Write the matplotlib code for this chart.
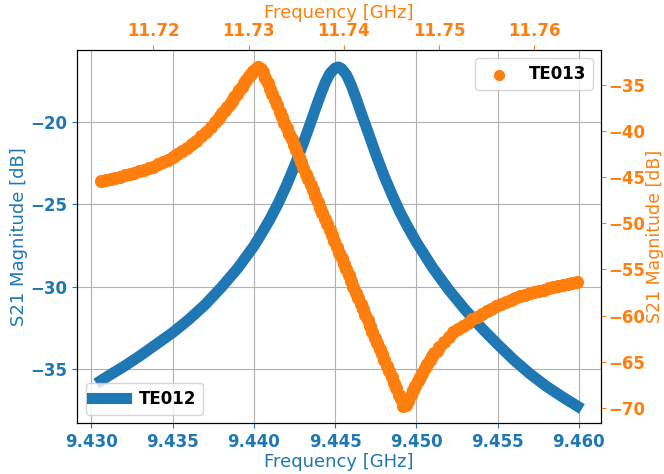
import matplotlib
matplotlib.use("Agg")
import matplotlib.pyplot as plt
from matplotlib.ticker import MultipleLocator

# TE012 (bottom / left axes)
te012_freq = [9.4306, 9.4310, 9.4320, 9.4330, 9.4340, 9.4350, 9.4360, 9.4370,
              9.4380, 9.4390, 9.4400, 9.4405, 9.4410, 9.4415, 9.4420, 9.4425,
              9.4430, 9.4435, 9.4438, 9.4441, 9.4444, 9.4447, 9.4450, 9.4452,
              9.4454, 9.4457, 9.4460, 9.4463, 9.4466, 9.4470, 9.4475, 9.4480,
              9.4485, 9.4490, 9.4495, 9.4500, 9.4510, 9.4520, 9.4530, 9.4540,
              9.4550, 9.4560, 9.4570, 9.4580, 9.4590, 9.4599]
te012_mag = [-35.70, -35.45, -34.85, -34.20, -33.50, -32.80, -32.00, -31.10,
             -30.05, -28.90, -27.55, -26.75, -25.90, -24.95, -23.88, -22.70,
             -21.42, -20.05, -19.20, -18.38, -17.62, -17.05, -16.75, -16.68,
             -16.78, -17.15, -17.80, -18.60, -19.45, -20.55, -21.95, -23.25,
             -24.42, -25.50, -26.43, -27.30, -28.85, -30.20, -31.40, -32.50,
             -33.50, -34.45, -35.30, -36.05, -36.70, -37.25]

# TE013 (top / right axes)
te013_freq = [
    11.7145, 11.7150, 11.7155, 11.7160, 11.7165, 11.7170, 11.7175, 11.7180,
    11.7185, 11.7190, 11.7195, 11.7200, 11.7205, 11.7210, 11.7215, 11.7220,
    11.7225, 11.7230, 11.7235, 11.7240, 11.7245, 11.7250, 11.7255, 11.7260,
    11.7265,
    11.72675, 11.7270, 11.72725, 11.7275, 11.72775, 11.7280, 11.72825, 11.7285,
    11.72875, 11.7290, 11.72925, 11.7295, 11.72975, 11.7300, 11.73025, 11.7305,
    11.73075, 11.7310, 11.73125, 11.7315,
    11.73175, 11.7320, 11.73225, 11.7325, 11.73275, 11.7330, 11.73325, 11.7335,
    11.73375, 11.7340, 11.73425, 11.7345, 11.73475, 11.7350, 11.73525, 11.7355,
    11.73575, 11.7360, 11.73625, 11.7365, 11.73675, 11.7370, 11.73725, 11.7375,
    11.73775, 11.7380, 11.73825, 11.7385, 11.73875, 11.7390, 11.73925, 11.7395,
    11.73975, 11.7400, 11.74025, 11.7405, 11.74075, 11.7410, 11.74125, 11.7415,
    11.74175, 11.7420, 11.74225, 11.7425, 11.74275, 11.7430, 11.74325, 11.7435,
    11.74375, 11.7440, 11.74425, 11.7445, 11.74475, 11.7450, 11.74525, 11.7455,
    11.74575, 11.7460,
    11.74625, 11.7465, 11.74675, 11.7470, 11.74725, 11.7475, 11.74775, 11.7480,
    11.74825, 11.7485, 11.74875, 11.7490, 11.74925, 11.7495, 11.74975, 11.7500,
    11.7505, 11.7510, 11.7515, 11.7520, 11.7525, 11.7530, 11.7535, 11.7540,
    11.7545, 11.7550, 11.7555, 11.7560, 11.7565, 11.7570, 11.7575, 11.7580,
    11.7585, 11.7590, 11.7595, 11.7600, 11.7605, 11.7610, 11.7615, 11.7620,
    11.7625, 11.7630, 11.7635, 11.7640, 11.7645]
te013_mag = [
    -45.40, -45.29, -45.18, -45.06, -44.94, -44.81, -44.67, -44.52,
    -44.36, -44.20, -44.03, -43.85, -43.62, -43.38, -43.12, -42.84,
    -42.52, -42.18, -41.82, -41.44, -41.03, -40.58, -40.10, -39.58,
    -39.02,
    -38.72, -38.41, -38.09, -37.76, -37.42, -37.07, -36.71, -36.34,
    -35.96, -35.57, -35.18, -34.80, -34.43, -34.08, -33.76, -33.48,
    -33.22, -33.05, -33.22, -33.62,
    -34.2, -34.8, -35.4, -36.0, -36.6, -37.2, -37.9, -38.5,
    -39.1, -39.7, -40.3, -40.9, -41.5, -42.1, -42.8, -43.4,
    -44.0, -44.6, -45.2, -45.8, -46.4, -47.0, -47.7, -48.3,
    -48.9, -49.5, -50.1, -50.7, -51.3, -51.9, -52.6, -53.2,
    -53.8, -54.4, -55.0, -55.6, -56.2, -56.9, -57.5, -58.1,
    -58.7, -59.3, -59.9, -60.5, -61.1, -61.8, -62.4, -63.0,
    -63.6, -64.2, -64.8, -65.5, -66.0, -66.7, -67.3, -67.8,
    -68.6, -69.0,
    -69.8, -69.7, -69.2, -68.6, -68.1, -67.6, -67.1, -66.7,
    -66.2, -65.7, -65.2, -64.8, -64.4, -64.1, -63.8, -63.45,
    -62.9, -62.3, -61.8, -61.45, -61.1, -60.75, -60.4, -60.1,
    -59.8, -59.5, -59.25, -58.95, -58.7, -58.5, -58.3, -58.1,
    -57.9, -57.75, -57.6, -57.45, -57.3, -57.2, -57.05, -56.95,
    -56.8, -56.7, -56.6, -56.45, -56.35]

c1 = "tab:blue"
c2 = "tab:orange"

fig = plt.figure(figsize=(6.64, 4.74), dpi=100)
ax = fig.add_axes([0.1164, 0.1076, 0.7887, 0.7869])
ax.plot(te012_freq, te012_mag, color=c1, lw=8, label="TE012")
ax.grid(True)
ax.xaxis.set_major_locator(MultipleLocator(0.005))
ax.yaxis.set_major_locator(MultipleLocator(5))
ax.tick_params(colors=c1, labelsize=12)
for t in ax.get_xticklabels() + ax.get_yticklabels():
    t.set_fontweight("bold")
ax.set_xlabel("Frequency [GHz]", color=c1, fontsize=13, labelpad=2)
ax.set_ylabel("S21 Magnitude [dB]", color=c1, fontsize=13, labelpad=2)
ax.legend(loc="lower left", prop={"weight": "bold", "size": 12})

ax2 = fig.add_axes(ax.get_position(), label="te013")
ax2.patch.set_visible(False)
ax2.scatter(te013_freq, te013_mag, color=c2, s=90, linewidths=0, label="TE013")
ax2.xaxis.set_ticks_position("top")
ax2.xaxis.set_label_position("top")
ax2.yaxis.set_ticks_position("right")
ax2.yaxis.set_label_position("right")
ax2.xaxis.set_major_locator(MultipleLocator(0.01))
ax2.yaxis.set_major_locator(MultipleLocator(5))
ax2.tick_params(colors=c2, labelsize=12)
ax2.tick_params(axis="y", pad=2)
for t in ax2.get_xticklabels() + ax2.get_yticklabels():
    t.set_fontweight("bold")
ax2.set_xlabel("Frequency [GHz]", color=c2, fontsize=13, labelpad=3)
ax2.set_ylabel("S21 Magnitude [dB]", color=c2, fontsize=12.5, labelpad=0)
ax2.legend(loc="upper right", prop={"weight": "bold", "size": 12}, markerscale=0.85)

fig.savefig("out.png", dpi=100)
